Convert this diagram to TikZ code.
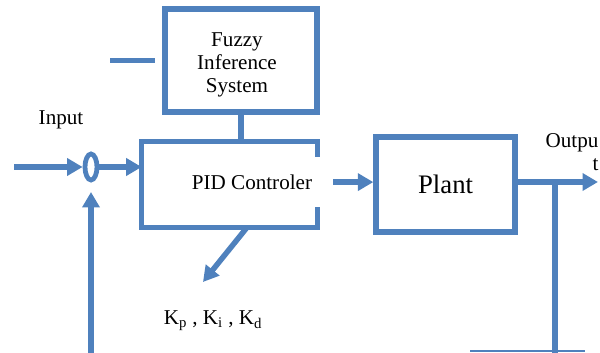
\documentclass[tikz,border=0pt]{standalone}
\usepackage{fontspec}
\setmainfont{Liberation Serif}
\usetikzlibrary{shapes.geometric, arrows.meta, positioning, calc}
\definecolor{wireblue}{HTML}{4F81BD}
\tikzstyle{block} = [rectangle, draw=wireblue, line width=3.9pt, align=center, inner sep=1mm, fill=white]
\tikzstyle{wire} = [draw=wireblue, line width=3.9pt]
\tikzstyle{arrow} = [wire, -{Triangle[length=11pt, width=12pt]}]
\tikzstyle{junction} = [ellipse, draw=wireblue, line width=3.4pt, minimum width=0.3cm, minimum height=0.65cm, inner sep=0pt]
\tikzstyle{tag} = [align=center, inner sep=1pt]

\begin{document}
\begin{tikzpicture}[x=0.025cm, y=-0.025cm, every node/.style={font=\fontsize{15}{16.5}\selectfont}]
      \useasboundingbox (0,0) rectangle (600,353);

      % Blocks
      \node[minimum width=4.375cm, minimum height=2.125cm, inner sep=0pt] (pid) at (229.5,184.5) {};
      \node (pidtxt) at (252,182) {PID Controler};
      \node[block, minimum width=3.8cm, minimum height=2.575cm, above=0.675cm of pid, xshift=0.29cm] (fis) {};
      \node[tag] (fistxt) at (237,65) {Fuzzy\\Inference\\System};
      \node[block, minimum width=3.475cm, minimum height=2.375cm, right=1.4cm of pid, font=\fontsize{19}{22}\selectfont] (plant) {Plant};
      \node[junction] (sum) at (91,167) {};

      % PID box, open on the right
      \draw[wire] ([yshift=0.69cm]pid.east) -- (pid.north east) -- (pid.north west)
            -- (pid.south west) -- (pid.south east) -- ([yshift=-0.56cm]pid.east);

      % Labels
      \node[tag] (inlbl) at (61,120) {Input};
      \node[tag, align=right] (outlbl) at (572,152) {Outpu\\t};
      \node[tag] (gains) at (213,321) {K\textsubscript{p} , K\textsubscript{i} , K\textsubscript{d}};

      % Free ends
      \coordinate (floor) at (0,353);
      \coordinate (src) at (14,167);
      \coordinate (sink) at (598,182);
      \coordinate (tap) at (555,182);
      \coordinate (fisin) at ([xshift=-1.3cm]fis.west);
      \coordinate (gtip) at (203,282);
      \coordinate (g1) at (470,351);
      \coordinate (g2) at (585,351);

      % Arrows
      \draw[arrow] (src) -- (sum.west);
      \draw[arrow] (sum.east) -- (sum.east -| pid.west);
      \draw[arrow] (sum.south |- floor) -- ([yshift=-0.24cm]sum.south);
      \draw[arrow] ([xshift=0.4cm, yshift=0.06cm]pid.east) -- ([yshift=0.06cm]plant.west);
      \draw[arrow] (sink -| plant.east) -- (sink);
      \draw[wire] (tap) -- (tap |- floor);
      \draw[draw=wireblue, line width=1.4pt] (g1) -- (g2);
      \draw[wire] (fis.south) -- (fis.south |- pid.north);
      \draw[wire] (fisin) -- ([xshift=-0.175cm]fis.west);
      \draw[arrow] ([xshift=0.44cm]pid.south) -- (gtip);
    \end{tikzpicture}
\end{document}
